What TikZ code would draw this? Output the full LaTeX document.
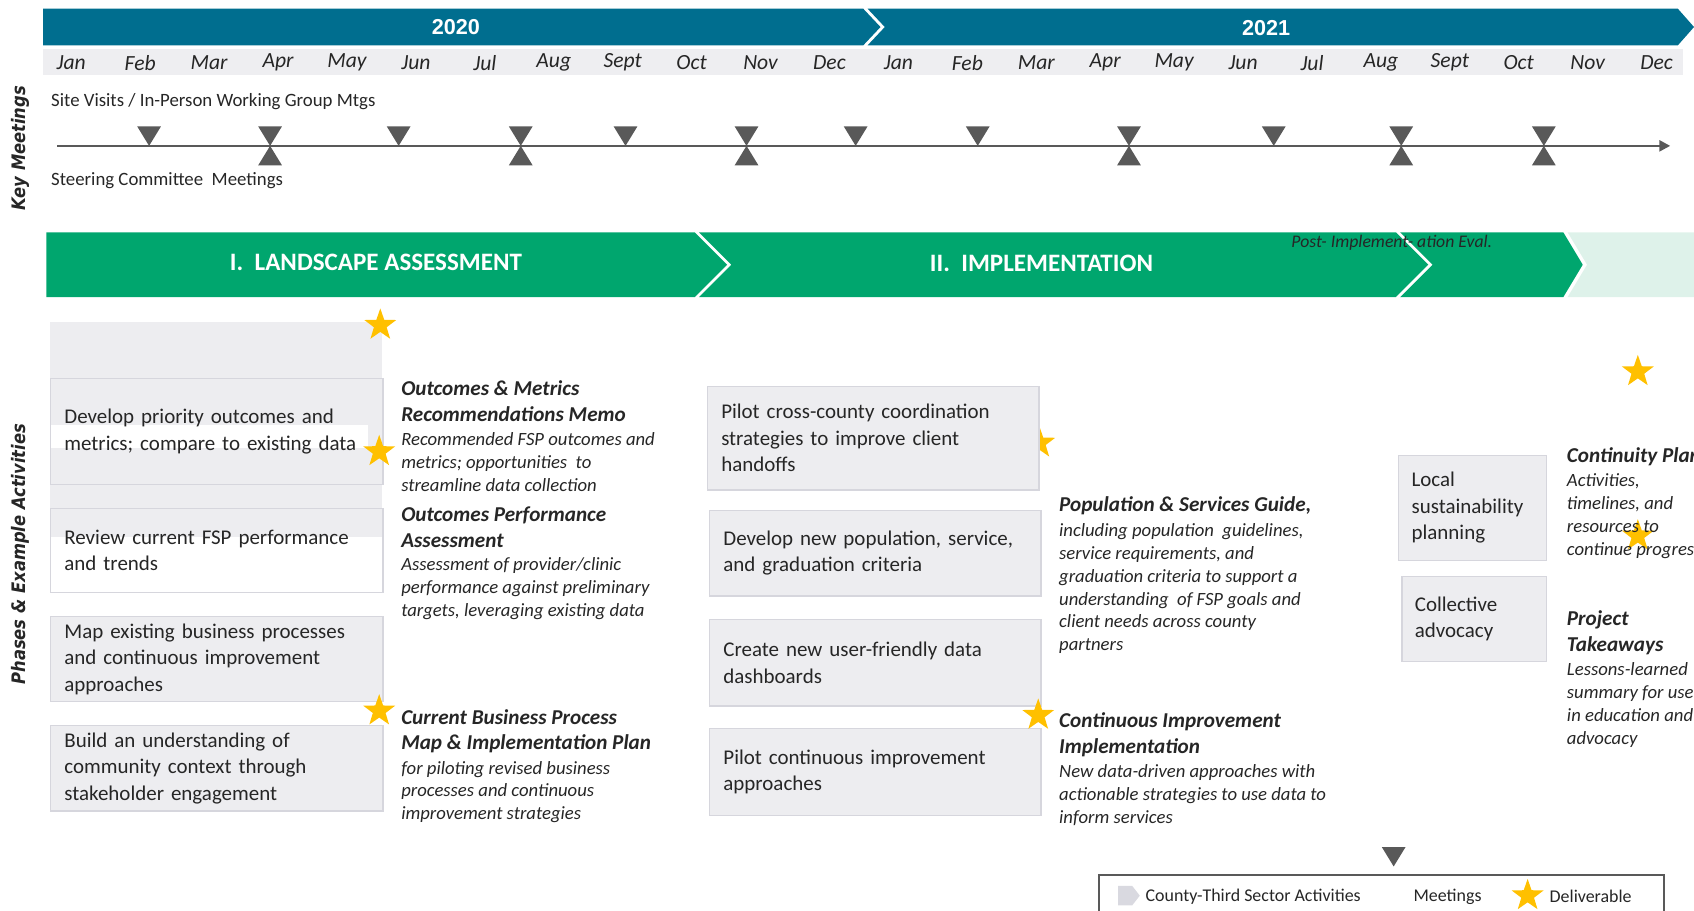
\documentclass[tikz,border=0pt]{standalone}
\usepackage{fontspec}
\setmainfont{Carlito}
\newfontfamily\sidefont[FakeStretch=0.88]{DejaVu Sans}
\newfontfamily\yearfont{Liberation Sans}
\usetikzlibrary{shapes.geometric,arrows.meta}

\definecolor{yearblue}{RGB}{0,110,143}
\definecolor{phasegreen}{RGB}{0,166,110}
\definecolor{phasepale}{RGB}{222,242,234}
\definecolor{monthgrey}{RGB}{238,238,241}
\definecolor{boxgrey}{RGB}{237,237,240}
\definecolor{boxline}{RGB}{214,214,221}
\definecolor{mtggrey}{RGB}{89,89,89}
\definecolor{stargold}{RGB}{255,192,0}
\definecolor{inkdark}{RGB}{38,38,38}
\definecolor{legendgrey}{RGB}{217,217,224}

\begin{document}
\begin{tikzpicture}[x=0.5pt,y=-0.5pt,
  yearlbl/.style={text=white,font=\yearfont\fontsize{10}{12}\selectfont\bfseries},
  month/.style={text=inkdark,font=\fontsize{10}{12}\selectfont\itshape},
  phaselbl/.style={text=white,font=\fontsize{11.6}{14}\selectfont\bfseries},
  sidelbl/.style={rotate=90,text=inkdark,font=\sidefont\fontsize{8.6}{10}\selectfont\bfseries\itshape},
  mtglbl/.style={anchor=west,inner sep=0pt,text=inkdark,font=\fontsize{8.7}{10}\selectfont},
  actbox/.style={draw=boxline,line width=0.6pt,fill=boxgrey,anchor=north west,align=left,
    inner xsep=6.5pt,inner ysep=0pt,text=inkdark,font=\fontsize{9.7}{12.25}\selectfont},
  dhead/.style={anchor=north west,align=left,inner sep=0pt,text=inkdark,
    font=\fontsize{9.8}{12}\selectfont\bfseries\itshape},
  dbody/.style={anchor=north west,align=left,inner sep=0pt,text=inkdark,
    font=\fontsize{8.65}{10.6}\selectfont\itshape},
  deliv/.style={star,star points=5,star point ratio=2.5,fill=stargold,inner sep=0pt,minimum size=15.5pt},
  downtri/.pic={\fill[mtggrey] (-11,-18) -- (11,-18) -- (0,0) -- cycle;},
  uptri/.pic={\fill[mtggrey] (-11,18) -- (11,18) -- (0,0) -- cycle;},
  legtxt/.style={anchor=west,inner sep=0pt,text=inkdark,font=\fontsize{8.3}{10}\selectfont}
]
\useasboundingbox (0,0) rectangle (1568,843);
\clip (0,0) rectangle (1568,843);

% ---- year banner and month strip
\fill[yearblue] (40,8) -- (799,8) -- (815,25) -- (799,42) -- (40,42) -- cycle;
\fill[yearblue] (803,8) -- (1553,8) -- (1568,25) -- (1553,42) -- (803,42) -- (819,25) -- cycle;
\node[yearlbl] (y2020) at (422,25) {2020};
\node[yearlbl] (y2021) at (1172,26) {2021};
\fill[monthgrey] (40,45) rectangle (1558,69);
\foreach \m [count=\i from 0] in {Jan,Feb,Mar,Apr,May,Jun,Jul,Aug,Sept,Oct,Nov,Dec,Jan,Feb,Mar,Apr,May,Jun,Jul,Aug,Sept,Oct,Nov,Dec}
  \node[month] (mon\i) at ({66+63.8*\i},58) {\m};

% ---- key meetings timeline
\node[sidelbl] (keymtg) at (19,137) {Key Meetings};
\node[mtglbl] (sitevis) at (47,94) {Site Visits / In-Person Working Group Mtgs};
\node[mtglbl] (steer) at (47,167) {Steering Committee\ \ Meetings};
\coordinate (tlstart) at (53,135);
\coordinate (tlend) at (1546,135);
\draw[mtggrey,line width=1.2pt,-{Triangle[length=5pt,width=5pt]}] (tlstart) -- (tlend);
\foreach \x in {138,250,369,482,579,691,792,905,1045,1179,1297,1429}
  \pic at (\x,135) {downtri};
\foreach \x in {250,482,691,1045,1297,1429}
  \pic at (\x,135) {uptri};

% ---- phase chevrons
\fill[phasegreen] (43,215) -- (643,215) -- (673,245) -- (643,275) -- (43,275) -- cycle;
\fill[phasegreen] (647,215) -- (1292,215) -- (1322,245) -- (1292,275) -- (647,275) -- (677,245) -- cycle;
\fill[phasegreen] (1296,215) -- (1447,215) -- (1465,245) -- (1447,275) -- (1296,275) -- (1326,245) -- cycle;
\fill[phasepale] (1451,215) -- (1580,215) -- (1580,275) -- (1451,275) -- (1469,245) -- cycle;
\node[phaselbl] (ph1) at (348,243) {I.\ \ LANDSCAPE ASSESSMENT};
\node[phaselbl] (ph2) at (964,244) {II.\ \ IMPLEMENTATION};
\node[anchor=west,inner sep=0pt,text=inkdark,font=\fontsize{8.2}{10}\selectfont\itshape] (ph3) at (1195,225) {Post- Implement- ation Eval.};

\node[sidelbl] (phases) at (19,513) {Phases \& Example Activities};

% ---- landscape assessment activities
\fill[boxgrey] (46,298) rectangle (354,495);
\node[actbox,text width=141pt,minimum height=49pt,
  path picture={\fill[white] ([yshift=-21.5pt]path picture bounding box.north west) rectangle ([xshift=-7pt,yshift=-32pt]path picture bounding box.north east);}]
  (a1) at (46,350) {Develop priority outcomes and\\metrics; compare to existing data};
\node[actbox,fill=white,text width=141pt,minimum height=39pt,
  path picture={\fill[boxgrey] (path picture bounding box.north west) rectangle ([yshift=-13pt]path picture bounding box.north east);}]
  (a2) at (46,470) {Review current FSP performance\\and trends};
\node[actbox,text width=141pt,minimum height=39.5pt] (a3) at (46,570) {Map existing business processes\\and continuous improvement\\approaches};
\node[actbox,text width=141pt,minimum height=39.5pt] (a4) at (46,671) {Build an understanding of\\community context through\\stakeholder engagement};

\node[deliv] (s1) at (352,301) {};
\node[deliv] (s2) at (351,418) {};
\node[deliv] (s3) at (351,658) {};

\node[dhead] (d1h) at (371,352) {Outcomes \& Metrics\\Recommendations Memo};
\node[dbody] (d1b) at (371,400) {Recommended FSP outcomes and\\metrics; opportunities\ \ to\\streamline data collection};
\node[dhead] (d2h) at (371,469) {Outcomes Performance\\Assessment};
\node[dbody] (d2b) at (371,516) {Assessment of provider/clinic\\performance against preliminary\\targets, leveraging existing data};
\node[dhead] (d3h) at (371,656) {Current Business Process\\Map \& Implementation Plan};
\node[dbody] (d3b) at (371,704) {for piloting revised business\\processes and continuous\\improvement strategies};

% ---- implementation activities
\node[deliv] (s4) at (962,410) {};
\node[actbox,text width=140.5pt,minimum height=48pt] (b1) at (654,357) {Pilot cross-county coordination\\strategies to improve client\\handoffs};
\node[actbox,text width=140.5pt,minimum height=39.5pt] (b2) at (656,472) {Develop new population, service,\\and graduation criteria};
\node[actbox,text width=140.5pt,minimum height=40pt] (b3) at (656,573) {Create new user-friendly data\\dashboards};
\node[actbox,text width=140.5pt,minimum height=40pt] (b4) at (656,674) {Pilot continuous improvement\\approaches};
\node[deliv] (s5) at (961,662) {};

\node[dhead] (d4h) at (980,459) {Population \& Services Guide,};
\node[dbody] (d4b) at (980,484) {including population\ \ guidelines,\\service requirements, and\\graduation criteria to support a\\understanding\ \ of FSP goals and\\client needs across county\\partners};
\node[dhead] (d5h) at (980,659) {Continuous Improvement\\Implementation};
\node[dbody] (d5b) at (980,707) {New data-driven approaches with\\actionable strategies to use data to\\inform services};

% ---- post-implementation activities
\node[actbox,inner xsep=6pt,text width=56.5pt,minimum height=48.5pt] (c1) at (1294,421) {Local\\sustainability\\planning};
\node[actbox,inner xsep=6pt,text width=55pt,minimum height=39.5pt] (c2) at (1297,533) {Collective\\advocacy};
\node[deliv] (s6) at (1516,344) {};
\node[deliv] (s7) at (1516,496) {};
\node[dhead] (d6h) at (1450,414) {Continuity Plan};
\node[dbody] (d6b) at (1450,438) {Activities,\\timelines, and\\resources to\\continue progress.};
\node[dhead] (d7h) at (1450,565) {Project\\Takeaways};
\node[dbody] (d7b) at (1450,613) {Lessons-learned\\summary for use\\in education and\\advocacy};

% ---- legend
\pic at (1290,802) {downtri};
\coordinate (lgA) at (1017,860);
\coordinate (lgB) at (1017,810);
\coordinate (lgC) at (1540,810);
\coordinate (lgD) at (1540,860);
\draw[mtggrey,line width=0.8pt] (lgA) -- (lgB) -- (lgC) -- (lgD);
\fill[legendgrey] (1035,820) -- (1048,820) -- (1055,829) -- (1048,838) -- (1035,838) -- cycle;
\node[legtxt] (lg1) at (1060,830) {County-Third Sector Activities};
\node[legtxt] (lg2) at (1308,830) {Meetings};
\node[deliv] (s8) at (1414,829) {};
\node[legtxt] (lg3) at (1434,830) {Deliverable};
\end{tikzpicture}
\end{document}
